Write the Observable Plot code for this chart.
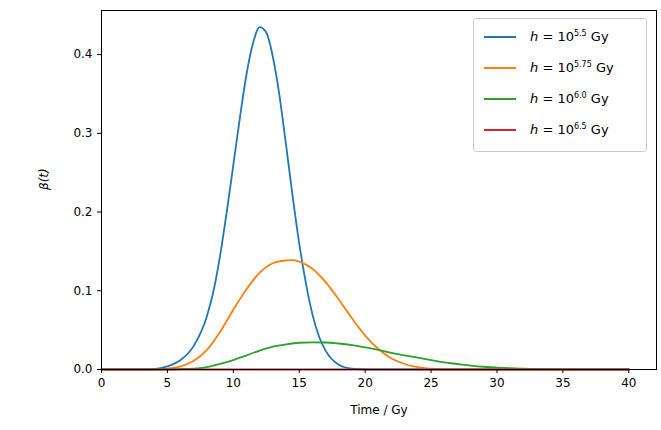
<!DOCTYPE html>
<html><head><meta charset="utf-8">
<script src="https://cdn.jsdelivr.net/npm/d3@7"></script>
<script src="https://cdn.jsdelivr.net/npm/@observablehq/plot@0.6"></script>
<style>
body{margin:0;background:#fff;font-family:"DejaVu Sans",sans-serif;}
#wrap{position:relative;width:661px;height:430px;}
#legend{position:absolute;left:473px;top:18px;width:174px;height:134px;border:1px solid #ccc;border-radius:3px;background:rgba(255,255,255,0.8);box-sizing:border-box;font-size:13px;}
.row{position:absolute;left:10px;display:flex;align-items:center;}
.sw{width:32px;height:2px;margin-right:14px;}
sup{font-size:8px;}
</style></head><body>
<div id="wrap"><div id="legend"></div></div>
<script>
const labels = ["5.5","5.75","6.0","6.5"];
const colors = ["#1f77b4","#ff7f0e","#2ca02c","#d62728"];
const blueT = [0,1,2,3,4,5,6,7,8,8.5,9,9.5,10,10.5,11,11.5,12,12.5,13,13.5,14,14.5,15,15.5,16,16.5,17,18,19,20,40];
const blueV = [0,0,0,0,0.0005,0.004,0.012,0.03,0.068,0.1,0.145,0.2,0.26,0.32,0.375,0.415,0.435,0.428,0.397,0.348,0.285,0.22,0.16,0.11,0.07,0.042,0.024,0.006,0.001,0,0];
const orangeT = [0,4,5,6,7,8,9,10,11,12,13,14,14.5,15,16,17,18,19,20,21,22,23,24,25,26,40];
const orangeV = [0,0,0.001,0.004,0.011,0.025,0.048,0.076,0.102,0.123,0.135,0.1385,0.139,0.137,0.128,0.111,0.089,0.065,0.043,0.026,0.014,0.007,0.003,0.001,0,0];
const greenT = [0,5,6,7,8,9,10,11,12,13,14,15,16,17,18,19,20,21,22,23,24,25,26,27,28,29,30,31,32,33,34,35,36,40];
const greenV = [0,0,0.0005,0.001,0.003,0.007,0.012,0.018,0.024,0.029,0.032,0.034,0.0345,0.0343,0.033,0.031,0.028,0.025,0.021,0.018,0.015,0.012,0.009,0.007,0.005,0.0035,0.0025,0.0017,0.0011,0.0007,0.0004,0.0002,0,0];
const redT = [0,10,20,30,40];
const redV = [0,0,0,0,0];
const series = [[blueT,blueV],[orangeT,orangeV],[greenT,greenV],[redT,redV]];
const data = [];
series.forEach(([ts,vs],i)=>ts.forEach((t,j)=>data.push({t,v:vs[j],s:labels[i]})));
const xTicks=[0,5,10,15,20,25,30,35,40], yTicks=[0,0.1,0.2,0.3,0.4];
const chart = Plot.plot({
  width:661,height:430,marginLeft:101,marginRight:5,marginTop:10,marginBottom:61,
  style:{fontFamily:"DejaVu Sans",fontSize:"12px",color:"#000"},
  x:{domain:[0,42.1],label:null},
  y:{domain:[0,0.456],label:null},
  color:{domain:labels,range:colors},
  marks:[
    Plot.line(data,{x:"t",y:"v",z:"s",stroke:"s",strokeWidth:1.8,curve:"monotone-x"}),
    Plot.frame({stroke:"#000",strokeWidth:1}),
    Plot.axisX({ticks:xTicks,tickFormat:d=>d,tickSize:4,fontSize:12}),
    Plot.axisY({ticks:yTicks,tickFormat:d3.format(".1f"),tickSize:4,fontSize:12}),
    Plot.text(["Time / Gy"],{frameAnchor:"bottom",dy:44,fontSize:12}),
    Plot.text(["β(t)"],{frameAnchor:"left",dx:-57,rotate:-90,fontSize:12,fontStyle:"italic"})
  ]
});
document.getElementById("wrap").prepend(chart);
const lg=document.getElementById("legend");
labels.forEach((l,i)=>{
  const r=document.createElement("div");r.className="row";r.style.top=(10+i*31)+"px";
  r.innerHTML=`<div class="sw" style="background:${colors[i]}"></div><span><i>h</i> = 10<sup>${l}</sup> Gy</span>`;
  lg.appendChild(r);
});
</script></body></html>
